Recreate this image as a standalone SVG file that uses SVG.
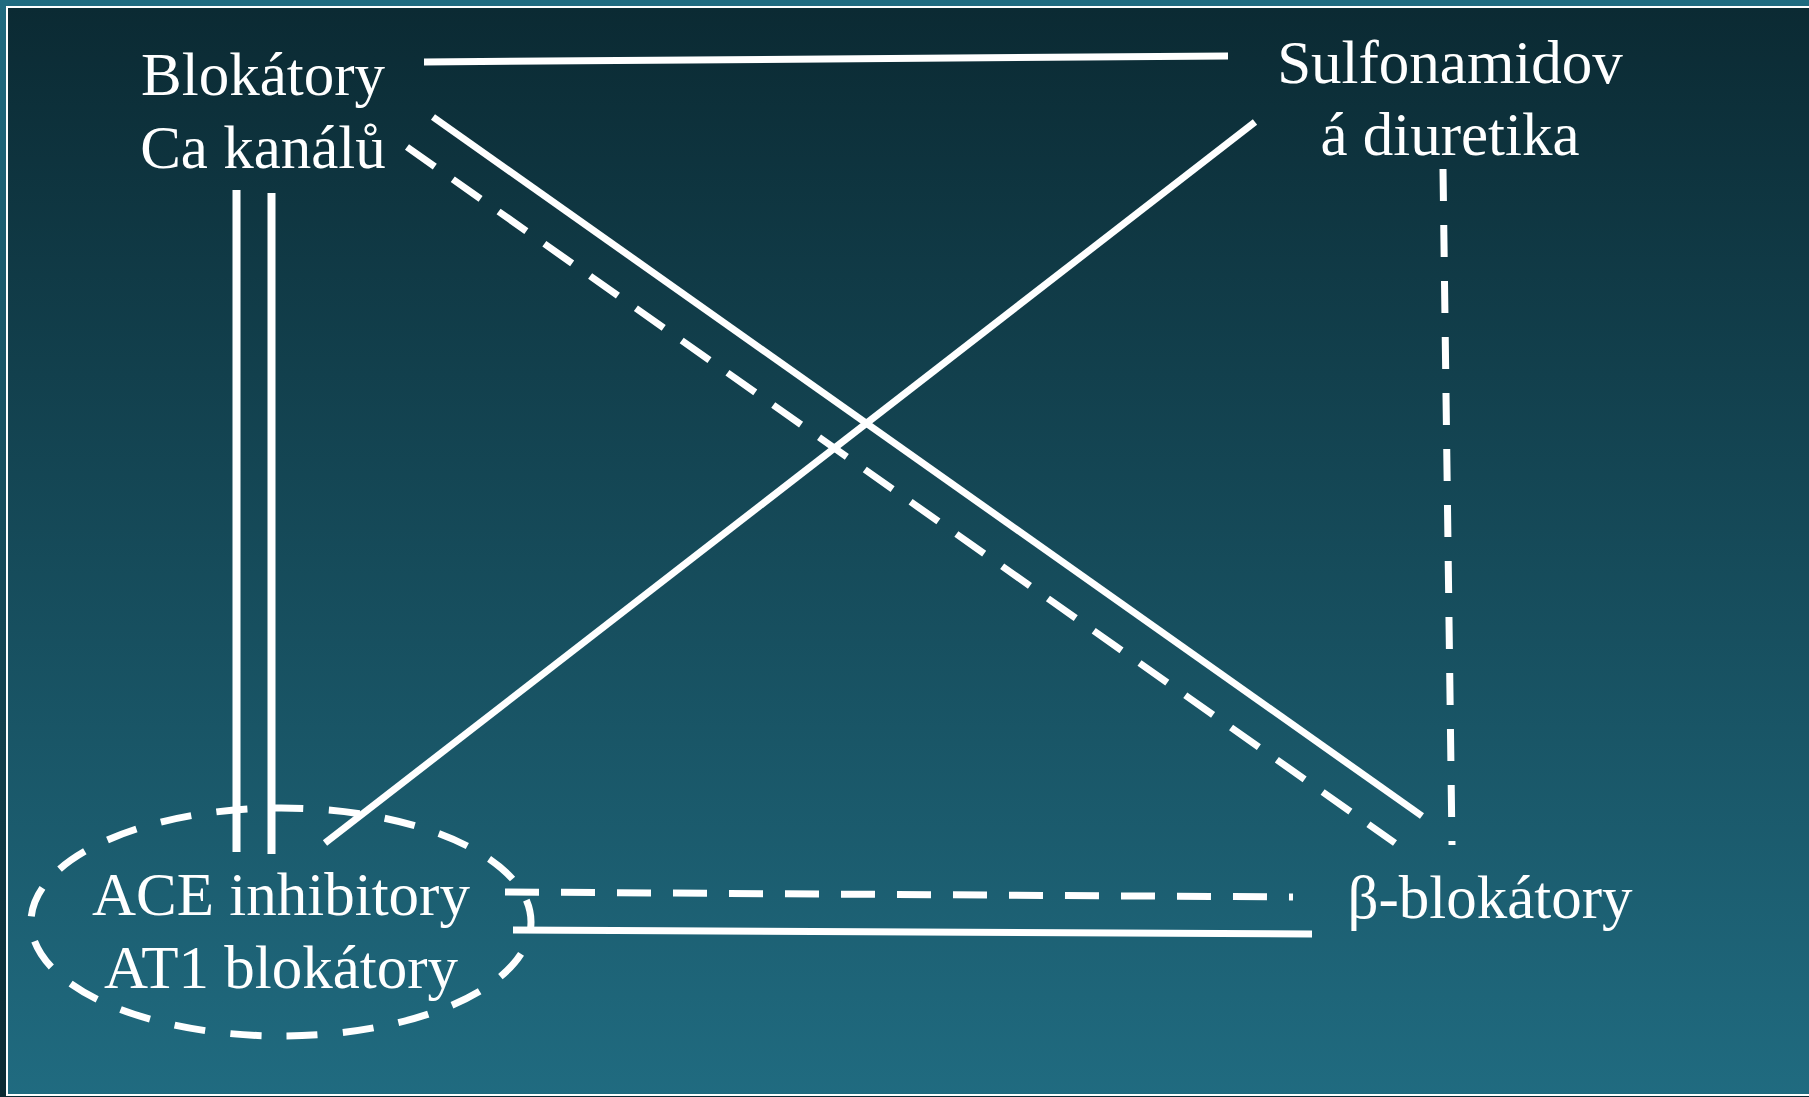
<svg xmlns="http://www.w3.org/2000/svg" width="1809" height="1097" viewBox="0 0 1809 1097">
  <defs>
    <linearGradient id="bg" x1="0" y1="0" x2="0" y2="1">
      <stop offset="0" stop-color="#0b2a33"/>
      <stop offset="1" stop-color="#206b80"/>
    </linearGradient>
    <linearGradient id="bgOuter" x1="0" y1="0" x2="0" y2="1">
      <stop offset="0" stop-color="#206b80"/>
      <stop offset="1" stop-color="#0b2a33"/>
    </linearGradient>
    <style>
      .lbl { font-family: "Liberation Serif", "Times New Roman", serif; font-size: 61px; fill: #ffffff; text-anchor: middle; }
      .solid { stroke: #ffffff; stroke-width: 7; fill: none; }
      .dash { stroke: #ffffff; stroke-width: 7; fill: none; stroke-dasharray: 34 22; }
    </style>
  </defs>

  <rect x="0" y="0" width="1809" height="1097" fill="url(#bgOuter)"/>
  <rect x="7" y="7" width="1810" height="1088" fill="url(#bg)" stroke="#ffffff" stroke-width="2"/>

  <g id="connectors">
    <line class="solid" x1="424" y1="62" x2="1228" y2="56"/>
    <line class="solid" x1="433" y1="117" x2="1422" y2="816"/>
    <line class="dash" x1="407" y1="147" x2="1395" y2="843"/>
    <line class="solid" x1="1255" y1="122" x2="325" y2="843"/>
    <line class="dash" style="stroke-dasharray: 32 24" x1="1443" y1="169" x2="1452" y2="845"/>
    <line class="solid" style="stroke-width:8" x1="236.5" y1="190" x2="236.5" y2="852"/>
    <line class="solid" style="stroke-width:8" x1="271.5" y1="193" x2="271.5" y2="854"/>
    <line class="dash" x1="505" y1="892" x2="1293" y2="897"/>
    <line class="solid" x1="513" y1="930" x2="1312" y2="934"/>
  </g>

  <g id="node-ca">
    <text class="lbl" x="263" y="95">Blokátory</text>
    <text class="lbl" x="263" y="168">Ca kanálů</text>
  </g>

  <g id="node-diuretika">
    <text class="lbl" x="1450" y="83">Sulfonamidov</text>
    <text class="lbl" x="1450" y="155">á diuretika</text>
  </g>

  <g id="node-ace">
    <ellipse cx="281" cy="922" rx="250" ry="114" fill="none" stroke="#ffffff" stroke-width="7" pathLength="2100" stroke-dasharray="55 45" stroke-dashoffset="40"/>
    <text class="lbl" x="281" y="915">ACE inhibitory</text>
    <text class="lbl" x="281" y="988">AT1 blokátory</text>
  </g>

  <g id="node-beta">
    <text class="lbl" x="1490" y="918">β-blokátory</text>
  </g>
</svg>
